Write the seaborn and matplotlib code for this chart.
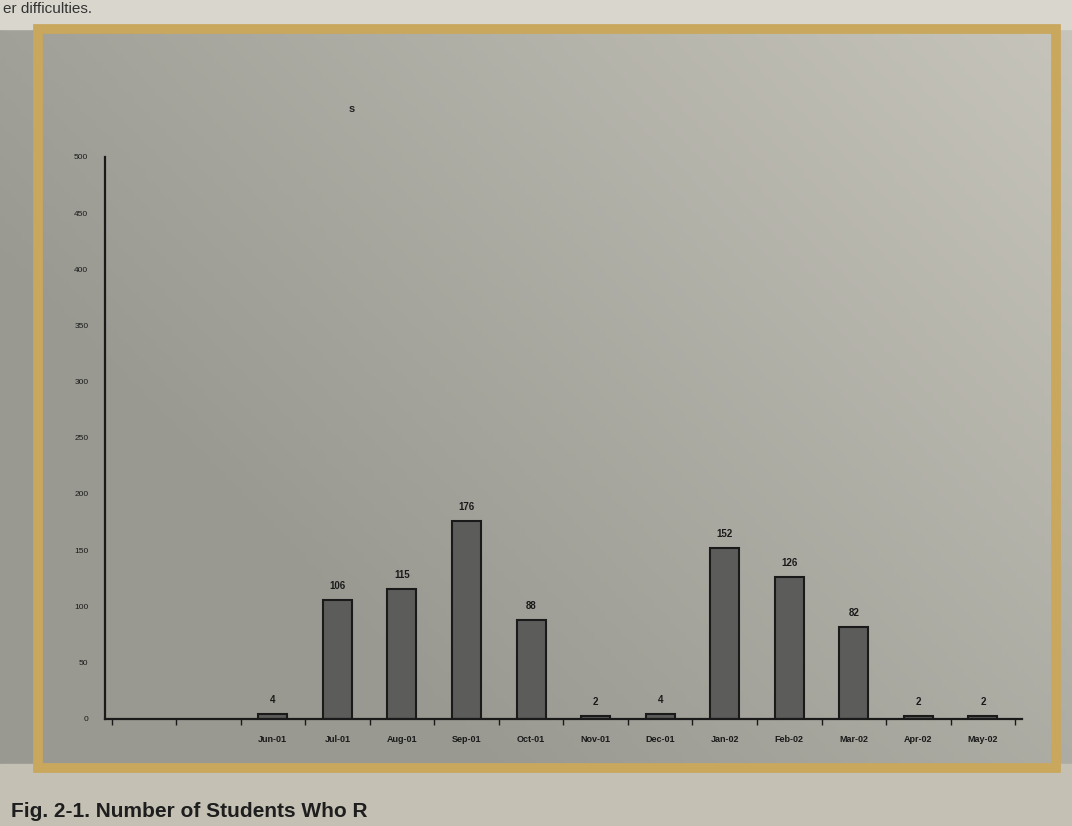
import numpy as np
import pandas as pd
import matplotlib
matplotlib.use("Agg")
import matplotlib.pyplot as plt
import matplotlib.patches as mpatches
import seaborn as sns

months = ["Jun-01", "Jul-01", "Aug-01", "Sep-01", "Oct-01", "Nov-01",
          "Dec-01", "Jan-02", "Feb-02", "Mar-02", "Apr-02", "May-02"]
students = [4, 106, 115, 176, 88, 2, 4, 152, 126, 82, 2, 2]
y_ticks = [0, 50, 100, 150, 200, 250, 300, 350, 400, 450, 500]

df = pd.DataFrame({"month": months, "students": students})

sns.set_theme(style="white")
plt.rcParams["font.family"] = ["Liberation Sans", "DejaVu Sans"]

fig = plt.figure(figsize=(10.72, 8.26), dpi=100)
fig.patch.set_facecolor("#b3b2ac")

# background paper with light gradient (photo lighting)
bg = fig.add_axes([0, 0, 1, 1], zorder=-10)
xx, yy = np.meshgrid(np.linspace(0, 1, 200), np.linspace(0, 1, 200))
light = np.clip(0.6 * xx + 0.45 * yy - 0.3, 0, 1)
base = np.array([0.60, 0.60, 0.57])
top = np.array([0.84, 0.83, 0.79])
img = base[None, None, :] + (top - base)[None, None, :] * light[..., None]
bg.imshow(img, extent=[0, 1, 0, 1], origin="lower", aspect="auto")
bg.add_patch(mpatches.Rectangle((0, 0.965), 1, 0.04, color="#d9d7cd", zorder=2))
bg.add_patch(mpatches.Rectangle((0, 0.0), 1, 0.075, color="#c4c0b3", zorder=2))
bg.add_patch(mpatches.Rectangle((0.035, 0.07), 0.95, 0.895, fill=False,
                                edgecolor="#c9a75c", linewidth=7, zorder=3))
bg.set_xlim(0, 1)
bg.set_ylim(0, 1)
bg.axis("off")

ax = fig.add_axes([0.098, 0.13, 0.855, 0.68])
ax.patch.set_alpha(0)
sns.barplot(data=df, x="month", y="students", order=months, color="#5c5c5a",
            edgecolor="#1a1a1a", linewidth=1.5, width=0.45, ax=ax, saturation=1)

for i, v in enumerate(students):
    ax.text(i, v + 8, str(v), ha="center", va="bottom", fontsize=7,
            fontweight="bold", color="#1a1a1a")

ax.set_ylim(0, 500)
ax.set_xlim(-2.6, 11.6)
ax.set_yticks(y_ticks)
ax.set_yticklabels([str(t) for t in y_ticks], fontsize=6, color="#1a1a1a")
ax.tick_params(axis="y", length=4, width=1.2, color="#1a1a1a", direction="out", pad=8)
ax.tick_params(axis="x", length=4, width=1, color="#1a1a1a", labelsize=6.5, pad=12)
for lbl in ax.get_xticklabels():
    lbl.set_fontweight("bold")
    lbl.set_color("#1a1a1a")
ax.set_xticks(np.arange(-2.5, 11.6, 1), minor=True)
ax.tick_params(axis="x", which="minor", length=4, width=1, color="#1a1a1a", bottom=True)
ax.tick_params(axis="x", which="major", length=0)
ax.set_xlabel("")
ax.set_ylabel("")
for side in ["top", "right"]:
    ax.spines[side].set_visible(False)
for side in ["left", "bottom"]:
    ax.spines[side].set_color("#1a1a1a")
    ax.spines[side].set_linewidth(1.6)

fig.text(0.325, 0.865, "s", fontsize=8, fontweight="bold", color="#222222")
fig.text(0.003, 0.997, "er difficulties.", fontsize=11, color="#333333", va="top")
fig.text(0.01, 0.006, "Fig. 2-1. Number of Students Who R", fontsize=15,
         fontweight="bold", color="#1e1e1e", va="bottom")

fig.savefig("out.png", dpi=100, facecolor=fig.get_facecolor())
